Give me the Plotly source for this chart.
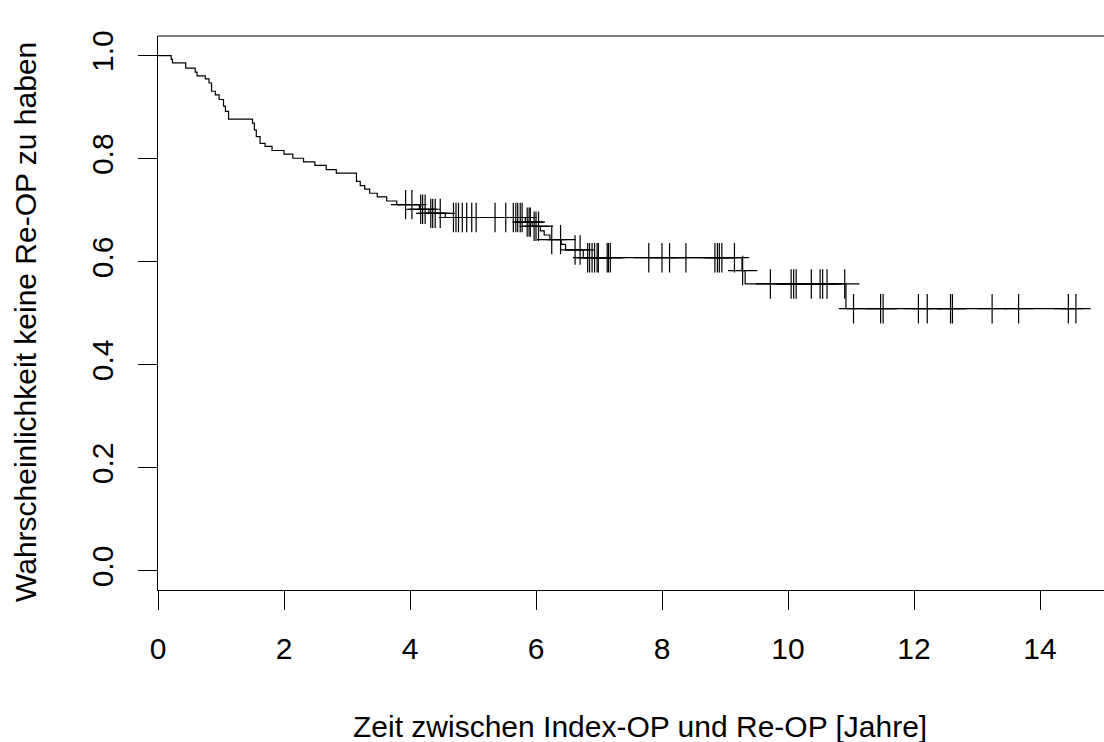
import plotly.graph_objects as go

# Kaplan-Meier step data (event times in years, survival after each event)
event_times = [0.21, 0.23, 0.44, 0.59, 0.62, 0.75, 0.81, 0.85, 0.91, 0.97, 1.04, 1.07, 1.12,
               1.50, 1.53, 1.56, 1.62, 1.70, 1.81, 2.00, 2.14, 2.31, 2.49, 2.67, 2.83,
               3.15, 3.21, 3.28, 3.36, 3.48, 3.63, 3.79, 4.15, 4.30, 4.56, 5.83, 5.94,
               6.07, 6.13, 6.22, 6.40, 6.47, 6.75, 9.27, 9.32, 10.92]
surv_values = [0.993, 0.986, 0.976, 0.968, 0.961, 0.955, 0.947, 0.931, 0.924, 0.915, 0.902, 0.892, 0.877,
               0.869, 0.856, 0.843, 0.830, 0.824, 0.816, 0.809, 0.801, 0.794, 0.787, 0.779, 0.772,
               0.756, 0.748, 0.741, 0.733, 0.726, 0.718, 0.711, 0.702, 0.694, 0.686, 0.677, 0.669,
               0.660, 0.652, 0.643, 0.634, 0.623, 0.608, 0.583, 0.557, 0.509]

censor_times = [3.93, 4.03, 4.17, 4.20, 4.24, 4.33, 4.36, 4.40, 4.48, 4.69, 4.73, 4.77, 4.83, 4.90,
                4.98, 5.05, 5.35, 5.52, 5.64, 5.68, 5.71, 5.75, 5.78, 5.86, 5.89, 5.91, 5.97, 6.00,
                6.04, 6.25, 6.39, 6.62, 6.70, 6.82, 6.85, 6.89, 6.93, 6.97, 6.99, 7.13, 7.15, 7.18,
                7.79, 8.00, 8.12, 8.38, 8.84, 8.88, 8.91, 8.95, 9.15, 9.28, 9.72, 10.05, 10.09,
                10.13, 10.37, 10.51, 10.55, 10.62, 10.90, 11.04, 11.47, 11.51, 12.07, 12.21, 12.58,
                12.61, 13.24, 13.66, 14.45, 14.57]

x_ticks = [0, 2, 4, 6, 8, 10, 12, 14]
y_ticks = [0.0, 0.2, 0.4, 0.6, 0.8, 1.0]
y_tick_labels = ["0.0", "0.2", "0.4", "0.6", "0.8", "1.0"]

x_title = "Zeit zwischen Index-OP und Re-OP [Jahre]"
y_title = "Wahrscheinlichkeit keine Re-OP zu haben"

def surv_at(t):
    s = 1.0
    for et, sv in zip(event_times, surv_values):
        if et <= t:
            s = sv
    return s

end_t = max(censor_times)
line_x = [0.0] + event_times + [end_t]
line_y = [1.0] + surv_values + [surv_values[-1]]
censor_y = [surv_at(t) for t in censor_times]

FONT = "Liberation Sans, Arial, sans-serif"
FS = 30
W, H = 1104, 742
L, R, T, B = 158, 0, 36, 152
plot_w = W - L - R
plot_h = H - T - B
px_per_x = 63.0

fig = go.Figure()
fig.add_trace(go.Scatter(x=line_x, y=line_y, mode="lines", line=dict(shape="hv", color="black", width=1.2),
                         hoverinfo="skip", showlegend=False))
fig.add_trace(go.Scatter(x=censor_times, y=censor_y, mode="markers",
                         marker=dict(symbol="cross-thin", size=21, line=dict(color="black", width=1.2)),
                         showlegend=False, hoverinfo="skip"))

fig.update_layout(
    width=W, height=H,
    margin=dict(l=L, r=R, t=T, b=B, pad=0),
    paper_bgcolor="white", plot_bgcolor="white",
    font=dict(family=FONT, size=FS, color="black"),
    xaxis=dict(range=[0, plot_w / px_per_x], tickvals=x_ticks, ticks="outside", ticklen=19,
               tickwidth=1, tickcolor="black", showline=True, linecolor="black", linewidth=1.2,
               showgrid=False, zeroline=False, ticklabelstandoff=13,
               tickfont=dict(family=FONT, size=FS)),
    yaxis=dict(range=[-0.0369, 1.0382], tickvals=y_ticks, ticktext=y_tick_labels, ticks="outside",
               ticklen=19, tickwidth=1, tickcolor="black", showline=True, linecolor="black",
               linewidth=1.2, showgrid=False, zeroline=False, tickangle=-90, ticklabelstandoff=13,
               tickfont=dict(family=FONT, size=FS)),
)
# top border of the box
fig.add_shape(type="line", xref="paper", yref="paper", x0=0, x1=1, y0=1, y1=1,
              line=dict(color="black", width=1.2))

fig.add_annotation(text=x_title, xref="paper", yref="paper", x=(640 - L) / plot_w, y=0,
                   yshift=-(726 - (H - B)), showarrow=False, xanchor="center", yanchor="middle",
                   font=dict(family=FONT, size=FS, color="black"))
fig.add_annotation(text=y_title, xref="paper", yref="paper", x=0, y=1 - (322 - T) / plot_h,
                   xshift=25 - L, showarrow=False, textangle=-90, xanchor="center", yanchor="middle",
                   font=dict(family=FONT, size=FS, color="black"))

fig.write_html("out.html")
